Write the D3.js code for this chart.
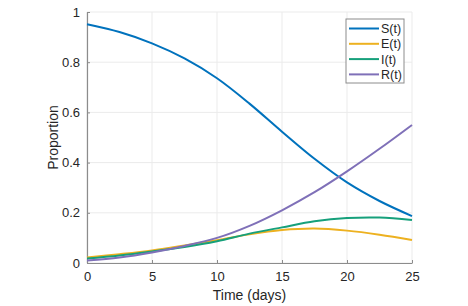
<!DOCTYPE html>
<html>
<head>
<meta charset="utf-8">
<script src="https://cdn.jsdelivr.net/npm/d3@7"></script>
<style>
  body { margin: 0; background: #fff; }
  text { font-family: "Liberation Sans", Arial, sans-serif; fill: #262626; }
</style>
</head>
<body>
<svg id="drawing_region"></svg>
<script>
const days = [0, 2.5, 5, 7.5, 10, 12.5, 15, 17.5, 20, 22.5, 25];
const S = [0.951, 0.92, 0.875, 0.815, 0.736, 0.635, 0.523, 0.415, 0.321, 0.247, 0.187];
const E = [0.022, 0.035, 0.05, 0.07, 0.091, 0.114, 0.131, 0.137, 0.129, 0.113, 0.092];
const I = [0.018, 0.03, 0.046, 0.064, 0.087, 0.117, 0.142, 0.166, 0.179, 0.181, 0.171];
const R = [0.01, 0.022, 0.042, 0.068, 0.1, 0.148, 0.21, 0.282, 0.365, 0.455, 0.55];
const labels = ["S(t)", "E(t)", "I(t)", "R(t)"];
const colors = ["#0072BD", "#EDB120", "#16A07B", "#7F70B8"];
const xTicks = [0, 5, 10, 15, 20, 25];
const yTicks = [0, 0.2, 0.4, 0.6, 0.8, 1];

const width = 468, height = 306;
const margin = {top: 12, right: 56, bottom: 43, left: 87};
const w = width - margin.left - margin.right;
const h = height - margin.top - margin.bottom;

const svg = d3.select('#drawing_region')
    .attr('width', width)
    .attr('height', height);
const g = svg.append('g')
    .attr('transform', `translate(${margin.left},${margin.top})`);

const x = d3.scaleLinear().domain([0, 25]).range([0, w]);
const y = d3.scaleLinear().domain([0, 1]).range([h, 0]);

// grid
g.selectAll('.gx').data(xTicks).enter().append('line')
    .attr('x1', d => x(d)).attr('x2', d => x(d))
    .attr('y1', 0).attr('y2', h)
    .attr('stroke', '#ebebeb').attr('stroke-width', 1);
g.selectAll('.gy').data(yTicks).enter().append('line')
    .attr('x1', 0).attr('x2', w)
    .attr('y1', d => y(d)).attr('y2', d => y(d))
    .attr('stroke', '#ebebeb').attr('stroke-width', 1);

// axes
const xAxis = g.append('g')
    .attr('transform', `translate(0,${h})`)
    .call(d3.axisBottom(x).tickValues(xTicks).tickSizeInner(-3).tickSizeOuter(0).tickPadding(9));
const yAxis = g.append('g')
    .call(d3.axisLeft(y).tickValues(yTicks).tickFormat(d3.format('~g')).tickSizeInner(-3).tickSizeOuter(0).tickPadding(7));
[xAxis, yAxis].forEach(a => {
    a.select('.domain').attr('stroke', '#8c8c8c').attr('stroke-width', 1.2);
    a.selectAll('.tick line').attr('stroke', '#8c8c8c');
    a.selectAll('text').style('font-size', '13px').attr('fill', '#262626');
});

// lines
const series = [S, E, I, R];
const line = d3.line()
    .x((d, i) => x(days[i]))
    .y(d => y(d))
    .curve(d3.curveCatmullRom.alpha(0.5));
g.selectAll('.series').data(series).enter().append('path')
    .attr('d', line)
    .attr('fill', 'none')
    .attr('stroke', (d, i) => colors[i])
    .attr('stroke-width', 2);

// axis labels
svg.append('text')
    .attr('x', margin.left + w / 2)
    .attr('y', 300)
    .attr('text-anchor', 'middle')
    .style('font-size', '14px')
    .text('Time (days)');
svg.append('text')
    .attr('transform', `translate(58,${margin.top + h / 2}) rotate(-90)`)
    .attr('text-anchor', 'middle')
    .style('font-size', '14px')
    .text('Proportion');

// legend
const lg = svg.append('g').attr('transform', 'translate(346,19)');
lg.append('rect')
    .attr('width', 58).attr('height', 64)
    .attr('fill', '#fff').attr('stroke', '#8c8c8c').attr('stroke-width', 1);
labels.forEach((l, i) => {
    const yy = 9.5 + i * 15.3;
    lg.append('line')
        .attr('x1', 3).attr('x2', 33).attr('y1', yy).attr('y2', yy)
        .attr('stroke', colors[i]).attr('stroke-width', 2);
    lg.append('text')
        .attr('x', 35).attr('y', yy + 4.5)
        .style('font-size', '12.5px')
        .text(l);
});
</script>
</body>
</html>
